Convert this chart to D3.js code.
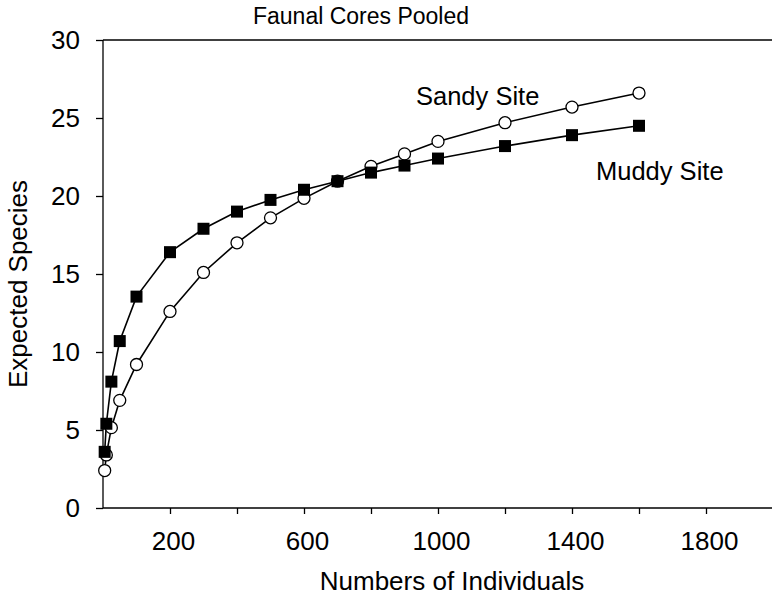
<!DOCTYPE html>
<html>
<head>
<meta charset="utf-8">
<script src="https://cdn.jsdelivr.net/npm/d3@7"></script>
<style>
  html, body { margin: 0; padding: 0; background: #fff; }
  svg { display: block; font-family: "Liberation Sans", Arial, sans-serif; }
</style>
</head>
<body>
<svg id="chart" width="772" height="605"></svg>
<script>
// ---- data ----
const individuals = [5, 10, 25, 50, 100, 200, 300, 400, 500, 600, 700, 800, 900, 1000, 1200, 1400, 1600];
const sandySite = [2.4, 3.4, 5.15, 6.9, 9.2, 12.6, 15.1, 17.0, 18.6, 19.85, 20.95, 21.9, 22.7, 23.5, 24.7, 25.7, 26.6];
const muddySite = [3.6, 5.4, 8.1, 10.7, 13.55, 16.4, 17.9, 19.0, 19.75, 20.4, 20.95, 21.5, 21.95, 22.4, 23.2, 23.9, 24.5];
const xTicks = [200, 400, 600, 800, 1000, 1200, 1400, 1600, 1800, 2000];
const xTickLabels = [200, 600, 1000, 1400, 1800];
const yTicks = [0, 5, 10, 15, 20, 25, 30];
const titleText = "Faunal Cores Pooled";
const xTitle = "Numbers of Individuals";
const yTitle = "Expected Species";
const seriesLabels = ["Sandy Site", "Muddy Site"];

// ---- layout ----
const svg = d3.select("#chart");
const x = d3.scaleLinear().domain([0, 2000]).range([103, 773]);
const y = d3.scaleLinear().domain([0, 30]).range([508, 40]);

// top frame line
svg.append("line")
  .attr("x1", x(0)).attr("x2", 772)
  .attr("y1", y(30)).attr("y2", y(30))
  .attr("stroke", "#000").attr("stroke-width", 1.3);

// x axis
const xAxis = d3.axisBottom(x)
  .tickValues(xTicks)
  .tickSize(6)
  .tickPadding(18)
  .tickFormat(d => xTickLabels.includes(d) ? String(d) : "");
const gx = svg.append("g").attr("transform", `translate(0,${y(0)})`).call(xAxis);
gx.select(".domain").attr("d", `M${x(0)},0H772`).attr("stroke-width", 1.6);
gx.selectAll(".tick line").attr("stroke-width", 1.3);
gx.selectAll(".tick text").attr("font-size", 26).attr("font-family", "Liberation Sans, Arial, sans-serif")
  .attr("fill", "#000").attr("dx", 3);

// y axis
const yAxis = d3.axisLeft(y)
  .tickValues(yTicks)
  .tickSize(7)
  .tickPadding(16);
const gy = svg.append("g").attr("transform", `translate(${x(0)},0)`).call(yAxis);
gy.select(".domain").attr("d", `M0,${y(0)}V${y(30)}`).attr("stroke-width", 1.3);
gy.selectAll(".tick line").attr("stroke-width", 1.3);
gy.selectAll(".tick text").attr("font-size", 26).attr("font-family", "Liberation Sans, Arial, sans-serif")
  .attr("fill", "#000");

// titles
svg.append("text").attr("x", 361).attr("y", 24).attr("text-anchor", "middle")
  .attr("font-size", 23).text(titleText);
svg.append("text").attr("x", 452).attr("y", 590).attr("text-anchor", "middle")
  .attr("font-size", 26).text(xTitle);
svg.append("text").attr("transform", "translate(27,284) rotate(-90)").attr("text-anchor", "middle")
  .attr("font-size", 26).text(yTitle);

// lines
const sandyData = individuals.map((n, i) => ({ n, v: sandySite[i] }));
const muddyData = individuals.map((n, i) => ({ n, v: muddySite[i] }));
const line = d3.line().x(d => x(d.n)).y(d => y(d.v));

svg.append("path").datum(sandyData).attr("d", line)
  .attr("fill", "none").attr("stroke", "#000").attr("stroke-width", 1.6);
svg.append("path").datum(muddyData).attr("d", line)
  .attr("fill", "none").attr("stroke", "#000").attr("stroke-width", 1.6);

// markers
svg.append("g").selectAll("circle").data(sandyData).join("circle")
  .attr("cx", d => x(d.n)).attr("cy", d => y(d.v)).attr("r", 6)
  .attr("fill", "#fff").attr("stroke", "#000").attr("stroke-width", 1.3);
const sq = 12;
svg.append("g").selectAll("rect").data(muddyData).join("rect")
  .attr("x", d => x(d.n) - sq / 2).attr("y", d => y(d.v) - sq / 2)
  .attr("width", sq).attr("height", sq).attr("fill", "#000");

// series labels
svg.append("text").attr("x", 416).attr("y", 105).attr("font-size", 25.5).text(seriesLabels[0]);
svg.append("text").attr("x", 596).attr("y", 180).attr("font-size", 25.5).text(seriesLabels[1]);
</script>
</body>
</html>
